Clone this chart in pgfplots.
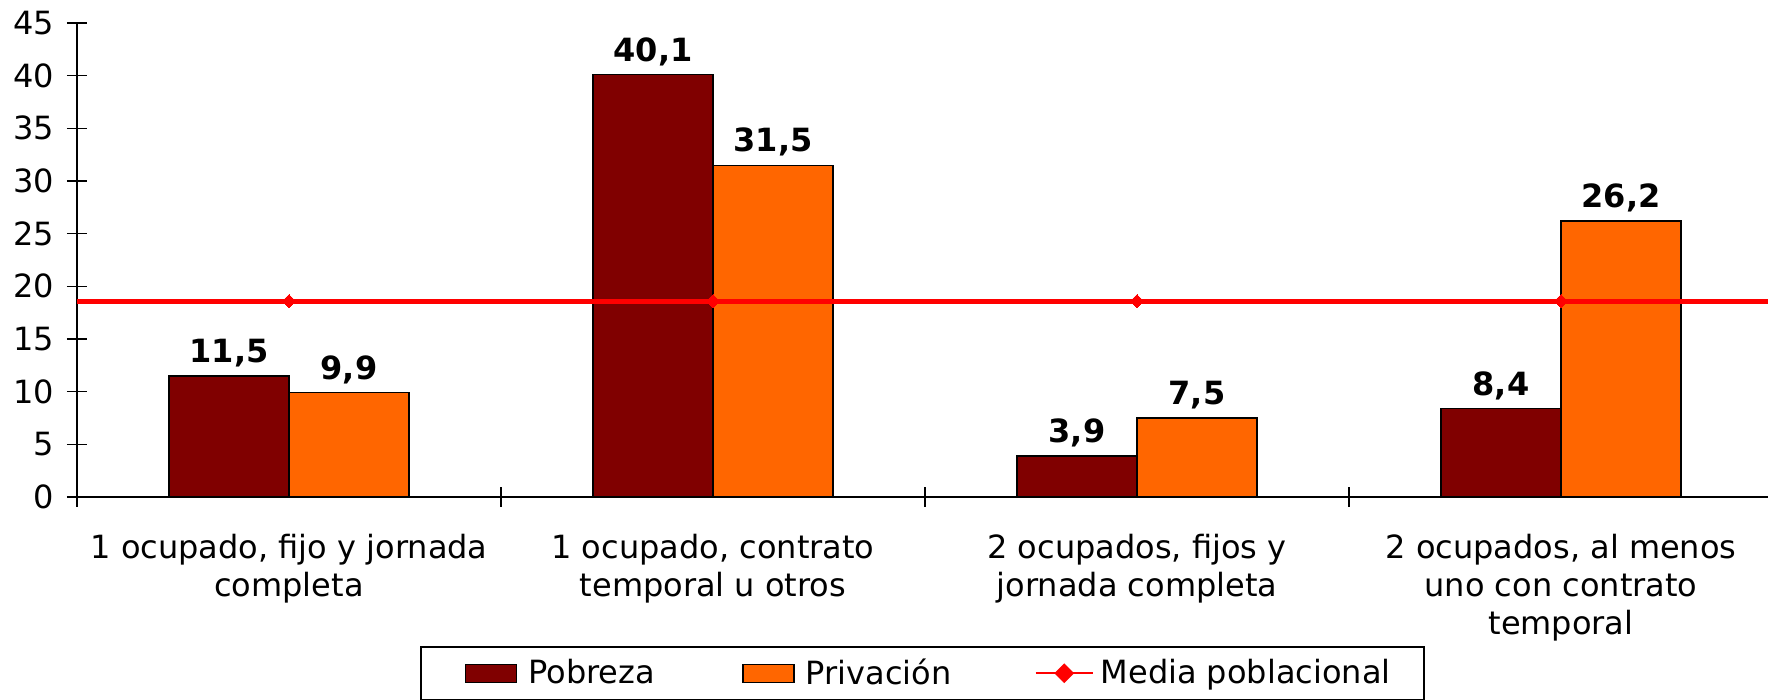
\documentclass[border=0pt]{standalone}
\usepackage{pgfplots}
\pgfplotsset{compat=1.18}
\usepackage{fontspec}
\setmainfont{DejaVu Sans}
\definecolor{pobreza}{RGB}{128,0,0}
\definecolor{privacion}{RGB}{255,102,0}
\newcommand{\chfont}{\fontsize{16}{19}\selectfont}
\begin{document}
\begin{tikzpicture}
\path[use as bounding box] (-38.5pt,-101.5pt) rectangle (845.5pt,248.5pt);
\begin{axis}[
  scale only axis,
  width=848pt, height=237pt,
  xmin=-0.5, xmax=3.5,
  ymin=0, ymax=45,
  ytick={0,5,...,45},
  axis lines*=left,
  axis line style={line width=0.8pt, black},
  tick align=center,
  major tick length=10pt,
  minor tick length=10pt,
  tick style={line width=0.8pt, black},
  xtick={0,1,2,3},
  xticklabels={{1 ocupado, fijo y jornada\\completa},{1 ocupado, contrato\\temporal u otros},{2 ocupados, fijos y\\jornada completa},{2 ocupados, al menos\\uno con contrato\\temporal}},
  every major x tick/.append style={draw=none},
  minor xtick={-0.5,0.5,1.5,2.5,3.5},
  xticklabel style={align=center, font=\chfont, anchor=north, yshift=-10pt},
  yticklabel style={font=\chfont, anchor=east, xshift=-3pt},
  /pgf/number format/assume math mode=true,
  legend columns=3,
  legend style={at={(axis description cs:0.2022,-0.3143)}, anchor=north west,
    draw=black, line width=1pt, inner xsep=22pt, inner ysep=6pt,
    font=\chfont, column sep=0pt, nodes={inner sep=0pt}},
  nodes near coords style={font=\bfseries\chfont, anchor=south, inner sep=4pt,
    /pgf/number format/use comma, /pgf/number format/fixed,
    /pgf/number format/fixed zerofill, /pgf/number format/precision=1},
]
\addplot[ybar, bar width=60pt, bar shift=-30pt, fill=pobreza, draw=black, line width=0.7pt,
  nodes near coords, every node near coord/.append style={/tikz/xshift=-30pt},
  legend image code/.code={\draw[fill=pobreza, draw=black, line width=0.7pt] (0pt,-4.5pt) rectangle (25.5pt,4.5pt);}]
  coordinates {(0,11.5) (1,40.1) (2,3.9) (3,8.4)};
\addlegendentry{\makebox[112.5pt][l]{\hspace{5.5pt}Pobreza}}
\addplot[ybar, bar width=60pt, bar shift=30pt, fill=privacion, draw=black, line width=0.7pt,
  nodes near coords, every node near coord/.append style={/tikz/xshift=30pt},
  legend image code/.code={\draw[fill=privacion, draw=black, line width=0.7pt] (0pt,-4.5pt) rectangle (25.5pt,4.5pt);}]
  coordinates {(0,9.9) (1,31.5) (2,7.5) (3,26.2)};
\addlegendentry{\makebox[120pt][l]{\hspace{5.5pt}Privación}}
\addplot[red, line width=2.5pt, sharp plot, mark=square*, mark size=2.3pt,
  mark options={solid, fill=red, draw=red, line width=0pt, rotate=45},
  mark indices={2,3,4,5},
  legend image code/.code={\draw[red, line width=1pt] (0pt,0pt) -- (28.5pt,0pt);
     \fill[red] (14.25pt,0pt) +(-3.2pt,0) -- +(0,3.2pt) -- +(3.2pt,0) -- +(0,-3.2pt) -- cycle;}]
  coordinates {(-0.5,18.6) (0,18.6) (1,18.6) (2,18.6) (3,18.6) (3.5,18.6)};
\addlegendentry{\makebox[143pt][l]{\hspace{3.5pt}Media poblacional}}
\end{axis}
\end{tikzpicture}
\end{document}
